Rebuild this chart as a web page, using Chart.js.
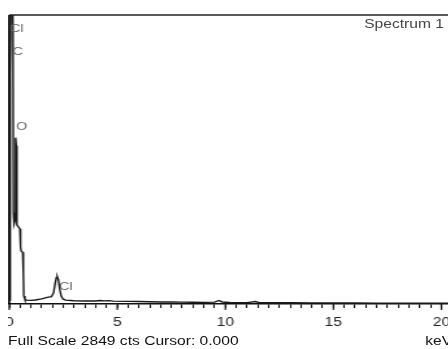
<!DOCTYPE html>
<html>
<head>
<meta charset="utf-8">
<script src="https://cdn.jsdelivr.net/npm/chart.js@4"></script>
<style>
  html, body { margin: 0; padding: 0; background: #fff; overflow: hidden; }
  body { width: 448px; height: 349px; position: relative; }
  #wrap {
    position: absolute; left: 8px; top: 0;
    width: 350px; height: 349px;
    transform: scaleX(1.3); transform-origin: 0 0;
  }
  #spec { position: absolute; left: 0; top: 0; }
  .txt {
    position: absolute; font-family: "Liberation Sans", Arial, sans-serif;
    font-size: 12px; line-height: 12px; white-space: nowrap;
  }
</style>
</head>
<body>
<div id="wrap">
  <canvas id="spec" width="350" height="349"></canvas>
  <div class="txt" style="left:274px; top:18px; color:#444;">Spectrum 1</div>
  <div class="txt" style="left:0px; top:335px; color:#111;">Full Scale 2849 cts Cursor: 0.000</div>
  <div class="txt" style="left:321px; top:335px; color:#111;">keV</div>
</div>
<script>
// EDS spectrum: energy (keV) and counts
const energyKeV = [
  0.00, 0.03, 0.05, 0.08, 0.12, 0.17, 0.19, 0.22, 0.26, 0.28, 0.30, 0.32, 0.34, 0.36,
  0.42, 0.49, 0.52, 0.55, 0.62, 0.65, 0.67, 0.72, 0.80, 1.00, 1.20, 1.50, 1.75, 1.95,
  2.05, 2.12, 2.18, 2.22, 2.27, 2.33, 2.40, 2.48, 2.60, 3.00, 3.50, 4.00, 4.20, 4.40,
  4.60, 4.80, 5.50, 6.00, 6.50, 7.00, 7.50, 8.00, 8.50, 9.00, 9.50, 9.70, 9.85, 10.20,
  11.00, 11.40, 11.55, 12.00, 13.00, 14.00, 15.00, 16.00, 17.00, 18.00, 19.00, 20.00, 21.00
];
const counts = [
  40, 900, 2300, 2950, 3500, 2700, 900, 790, 820, 1500, 1640, 1560, 1500, 780,
  760, 740, 560, 520, 510, 300, 80, 45, 38, 36, 39, 50, 66, 72,
  110, 200, 262, 270, 240, 150, 80, 50, 38, 32, 30, 30, 34, 31,
  33, 28, 26, 25, 22, 20, 19, 18, 17, 16, 18, 35, 20, 15,
  14, 24, 14, 13, 12, 11, 10, 10, 9, 8, 8, 7, 7
];

// Axis settings
const fullScale = 2849;
const energyMax = 21;
const minorStep = 0.5;
const majorTicks = [0, 5, 10, 15, 20];

// Element markers: name, energy of label, count level of label
const peakNames = ["Cl", "C", "O", "Cl"];
const peakLabelKeV = [0.03, 0.15, 0.31, 2.30];
const peakLabelCounts = [2711, 2484, 1745, 163];

const points = energyKeV.map((e, i) => ({ x: e, y: counts[i] }));

const framePlugin = {
  id: 'frame',
  afterDraw(chart) {
    const { ctx, chartArea } = chart;
    const xs = chart.scales.x, ys = chart.scales.y;
    ctx.save();
    // top and left frame lines
    ctx.strokeStyle = '#222';
    ctx.lineWidth = 1.4;
    ctx.beginPath();
    ctx.moveTo(chartArea.left, chartArea.top);
    ctx.lineTo(chartArea.right, chartArea.top);
    ctx.stroke();
    ctx.strokeStyle = '#000';
    ctx.lineWidth = 1.6;
    ctx.beginPath();
    ctx.moveTo(chartArea.left, chartArea.top);
    ctx.lineTo(chartArea.left, chartArea.bottom);
    ctx.stroke();
    // longer ticks at labelled energies
    ctx.strokeStyle = '#111';
    ctx.lineWidth = 1.1;
    majorTicks.forEach(v => {
      const px = xs.getPixelForValue(v);
      ctx.beginPath();
      ctx.moveTo(px, chartArea.bottom);
      ctx.lineTo(px, chartArea.bottom + 6);
      ctx.stroke();
    });
    // element labels
    ctx.fillStyle = '#666';
    ctx.font = '11px "Liberation Sans", Arial, sans-serif';
    ctx.textAlign = 'left';
    ctx.textBaseline = 'middle';
    peakNames.forEach((name, i) => {
      ctx.fillText(name, xs.getPixelForValue(peakLabelKeV[i]), ys.getPixelForValue(peakLabelCounts[i]));
    });
    ctx.restore();
  }
};

new Chart(document.getElementById('spec'), {
  type: 'scatter',
  data: {
    datasets: [{
      data: points,
      showLine: true,
      borderColor: '#1a1a1a',
      borderWidth: 1.4,
      pointRadius: 0,
      tension: 0,
      fill: false
    }]
  },
  options: {
    responsive: false,
    devicePixelRatio: 1,
    animation: false,
    layout: { padding: { left: 1, right: 0, top: 15, bottom: 0 } },
    plugins: { legend: { display: false }, tooltip: { enabled: false } },
    scales: {
      x: {
        type: 'linear',
        min: 0,
        max: energyMax,
        border: { display: true, color: '#111', width: 1.4 },
        grid: { drawOnChartArea: false, drawTicks: true, tickLength: 4, tickColor: '#111', tickWidth: 1.1 },
        ticks: {
          stepSize: minorStep,
          autoSkip: false,
          maxRotation: 0,
          padding: 7,
          color: '#222',
          font: { family: '"Liberation Sans", Arial, sans-serif', size: 12 },
          callback: (v) => majorTicks.includes(v) ? String(v) : ''
        },
        afterFit(scale) {
          scale.paddingLeft = 0;
          scale.paddingRight = 0;
          scale.height = 45;
        }
      },
      y: {
        display: false,
        min: 0,
        max: fullScale
      }
    }
  },
  plugins: [framePlugin]
});
</script>
</body>
</html>
